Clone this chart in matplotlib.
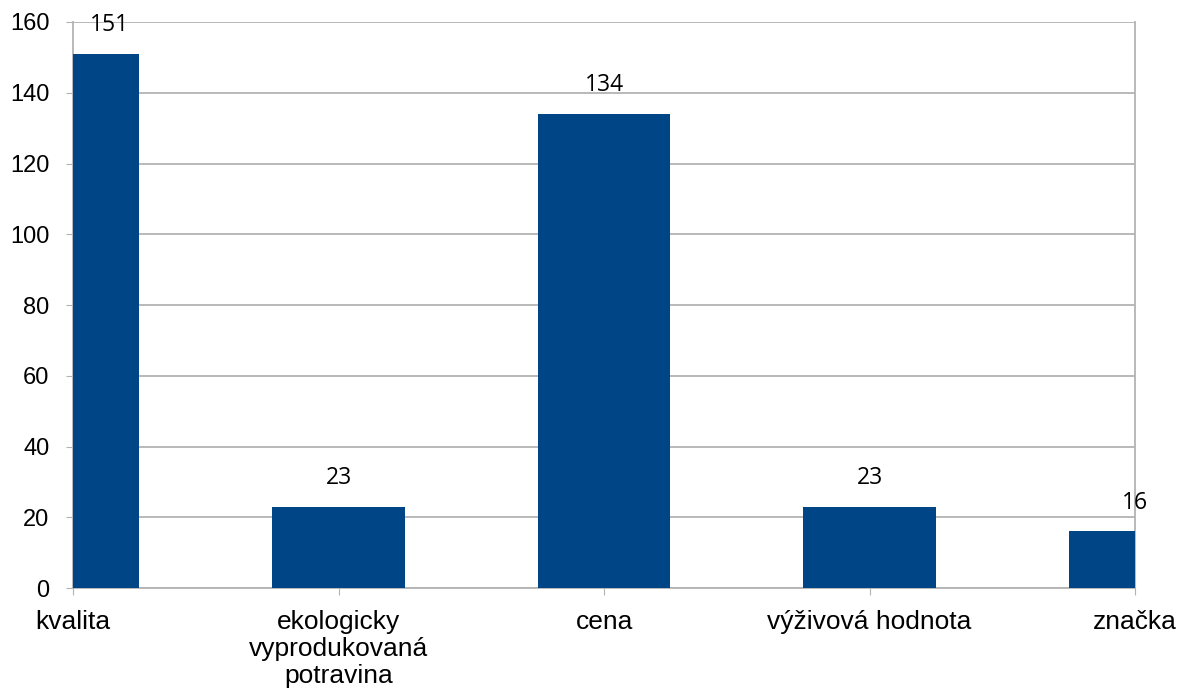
import matplotlib.pyplot as plt
import numpy as np

categories = ['kvalita', 'ekologicky\nvyprodukovaná\npotravina', 'cena', 'výživová hodnota', 'značka']
values = [151, 23, 134, 23, 16]
yticks = [0, 20, 40, 60, 80, 100, 120, 140, 160]

plt.rcParams['font.family'] = ['Liberation Sans', 'DejaVu Sans']

fig = plt.figure(figsize=(11.8, 6.94), dpi=100)
ax = fig.add_axes([0.0619, 0.1527, 0.9001, 0.8156])

ind = np.arange(len(categories))
bars = ax.bar(ind, values, 0.5, color='#004586', zorder=3)

ax.set_xlim(0, len(categories) - 1)
ax.set_ylim(0, 160)
ax.set_yticks(yticks)
ax.set_xticks(ind)
ax.set_xticklabels(categories, fontsize=19, linespacing=1.15)
ax.tick_params(axis='y', labelsize=17, length=5, color='#b3b3b3', pad=12)
ax.tick_params(axis='x', length=5, color='#b3b3b3', pad=11)
ax.grid(axis='y', color='#b3b3b3', linewidth=1.3, zorder=0)
for s in ax.spines.values():
    s.set_color('#b3b3b3')
    s.set_linewidth(1.3)
ax.spines['top'].set_visible(False)

# data labels
for i, v in enumerate(values):
    dx = 26 if i == 0 else 0
    ax.annotate(str(v), (i, v), xytext=(dx, 12), textcoords='offset points',
                ha='center', va='bottom', fontsize=16.5, family='Open Sans',
                annotation_clip=False)

plt.savefig('out.png')
